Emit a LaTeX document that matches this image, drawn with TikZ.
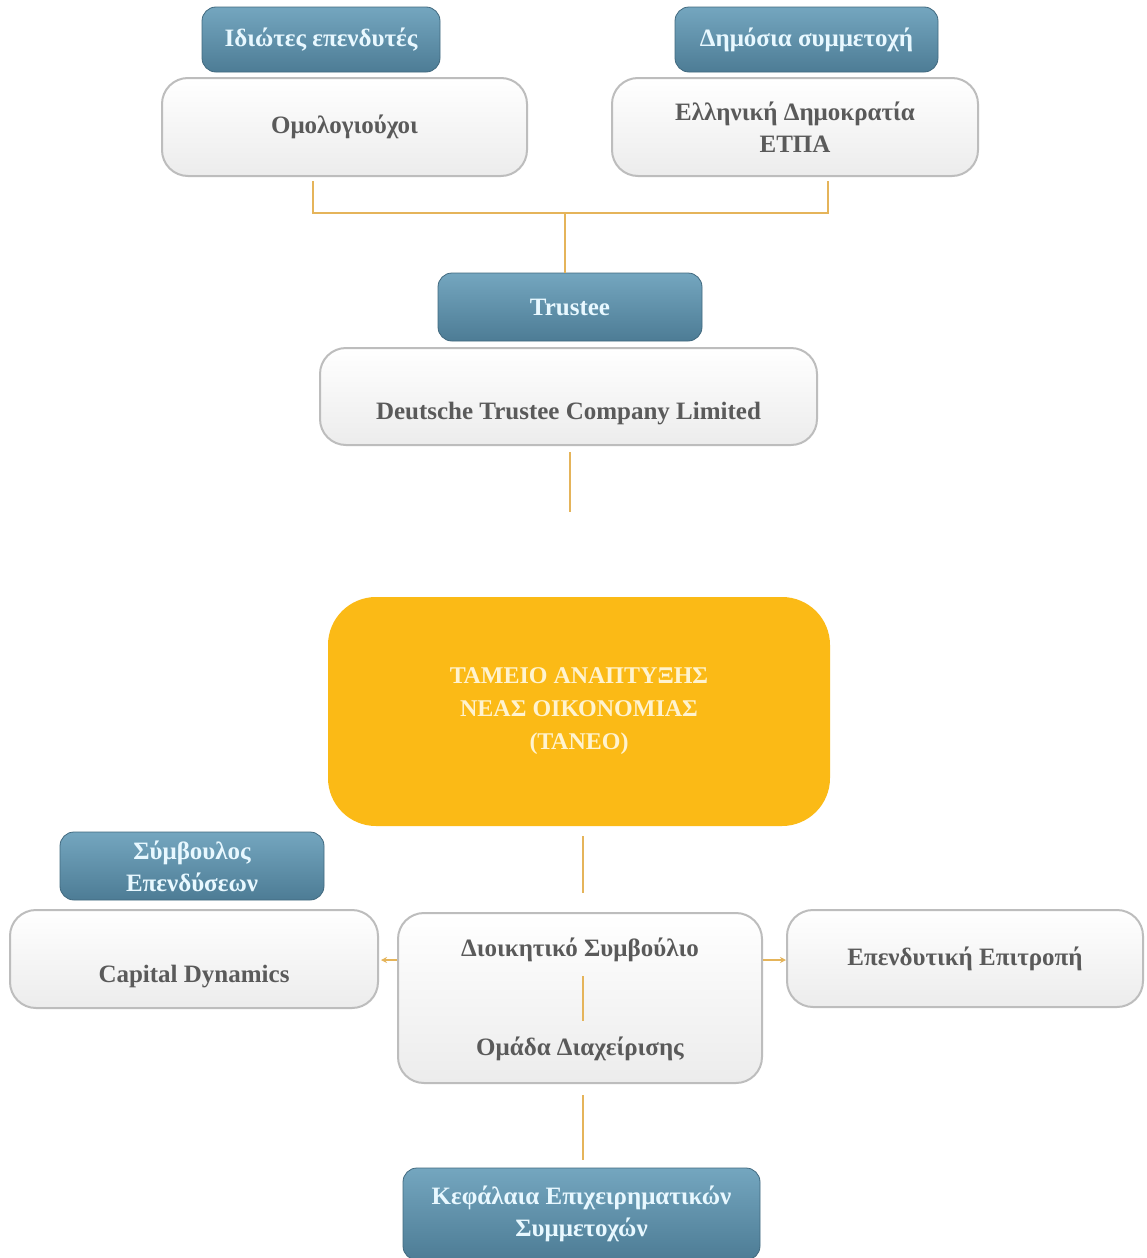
\documentclass[tikz,border=0pt]{standalone}
\usepackage{fontspec}
\setmainfont{Liberation Serif}
\usetikzlibrary{arrows.meta}
\definecolor{tabtop}{HTML}{74A6BF}
\definecolor{tabbot}{HTML}{4D7C95}
\definecolor{tabtext}{HTML}{E8F8FF}
\definecolor{boxbot}{HTML}{ECECEC}
\definecolor{boxline}{HTML}{BDBDBD}
\definecolor{boxtext}{HTML}{5A5A5A}
\definecolor{lineor}{HTML}{E5B45A}
\definecolor{taneo}{HTML}{FBBA16}
\definecolor{taneotext}{HTML}{FFF3CF}
\begin{document}
\begin{tikzpicture}[x=1pt,y=-1pt,
  txt/.style={font=\bfseries\fontsize{25}{32}\selectfont, align=center, inner sep=0pt},
  tab/.style={txt, rounded corners=14pt, top color=tabtop, bottom color=tabbot, draw=tabbot!85!black, line width=0.8pt, text=tabtext},
  wbox/.style={txt, rounded corners=26pt, top color=white, bottom color=boxbot, draw=boxline, line width=2pt, text=boxtext},
  plain/.style={txt, text=boxtext},
  conn/.style={draw=lineor, line width=1.8pt},
  arr/.style={conn, -{Stealth[length=6pt,width=6pt]}}]
\useasboundingbox (0,0) rectangle (1146,1258);
\clip (0,0) rectangle (1146,1258);
\fill[white] (0,0) rectangle (1146,1258);

% top row
\node[wbox, minimum width=365pt, minimum height=98pt] (box1) at (344.5,127) {Ομολογιούχοι};
\node[tab, minimum width=238pt, minimum height=65pt] (tab1) at (321,39.5) {Ιδιώτες επενδυτές};
\node[wbox, minimum width=366pt, minimum height=98pt] (box2) at (795,127) {Ελληνική Δημοκρατία\\ΕΤΠΑ};
\node[tab, minimum width=263pt, minimum height=65pt] (tab2) at (806.5,39.5) {Δημόσια συμμετοχή};

% trustee
\node[wbox, minimum width=497pt, minimum height=97pt] (boxD) at (568.5,396.5) {\raisebox{-23pt}[0pt][0pt]{Deutsche Trustee Company Limited}};
\node[tab, minimum width=264pt, minimum height=68pt] (tabT) at (570,307) {Trustee};

% TANEO
\node[txt, fill=taneo, rounded corners=48pt, minimum width=502pt, minimum height=229pt, text=taneotext, font=\bfseries\fontsize{24}{33}\selectfont] (taneo) at (579,711.5) {ΤΑΜΕΙΟ ΑΝΑΠΤΥΞΗΣ\\ΝΕΑΣ ΟΙΚΟΝΟΜΙΑΣ\\(ΤΑΝΕΟ)};

% lower row
\node[wbox, minimum width=368pt, minimum height=98pt] (boxC) at (194,959) {\raisebox{-23pt}[0pt][0pt]{Capital Dynamics}};
\node[tab, minimum width=264pt, minimum height=68pt] (tabS) at (192,866) {Σύμβουλος\\Επενδύσεων};
\node[wbox, minimum width=364pt, minimum height=170pt] (boxM) at (580,998) {};
\node[plain] (dioik) at (580,950) {Διοικητικό Συμβούλιο};
\node[plain] (omada) at (580,1049) {Ομάδα Διαχείρισης};
\node[wbox, minimum width=356pt, minimum height=97pt] (boxE) at (965,958.5) {Επενδυτική Επιτροπή};

% bottom
\node[tab, minimum width=357pt, minimum height=92pt] (tabK) at (581.5,1214) {Κεφάλαια Επιχειρηματικών\\Συμμετοχών};

% connectors
\coordinate (jm) at (565,213);
\coordinate (dEnd) at (570,512);
\coordinate (tEnd) at (583,893);
\coordinate (bStart) at (583,1095);
\coordinate (bEnd) at (583,1160);
\coordinate (ay) at (0,960);
\draw[conn] ([xshift=-31.5pt,yshift=-4pt]box1.south) |- (jm) -| ([xshift=33pt,yshift=-4pt]box2.south);
\draw[conn] (jm) -- (jm |- tabT.north);
\draw[conn] ([xshift=1.5pt,yshift=-6pt]boxD.south) -- (dEnd);
\draw[conn] ([xshift=4pt,yshift=-10pt]taneo.south) -- (tEnd);
\draw[conn] ([xshift=3pt,yshift=-14pt]dioik.south) -- ([xshift=3pt,yshift=16pt]omada.north);
\draw[arr] (boxM.west |- ay) -- ([xshift=2pt]boxC.east |- ay);
\draw[arr] (boxM.east |- ay) -- (boxE.west |- ay);
\draw[conn] (bStart) -- (bEnd);
\end{tikzpicture}
\end{document}
